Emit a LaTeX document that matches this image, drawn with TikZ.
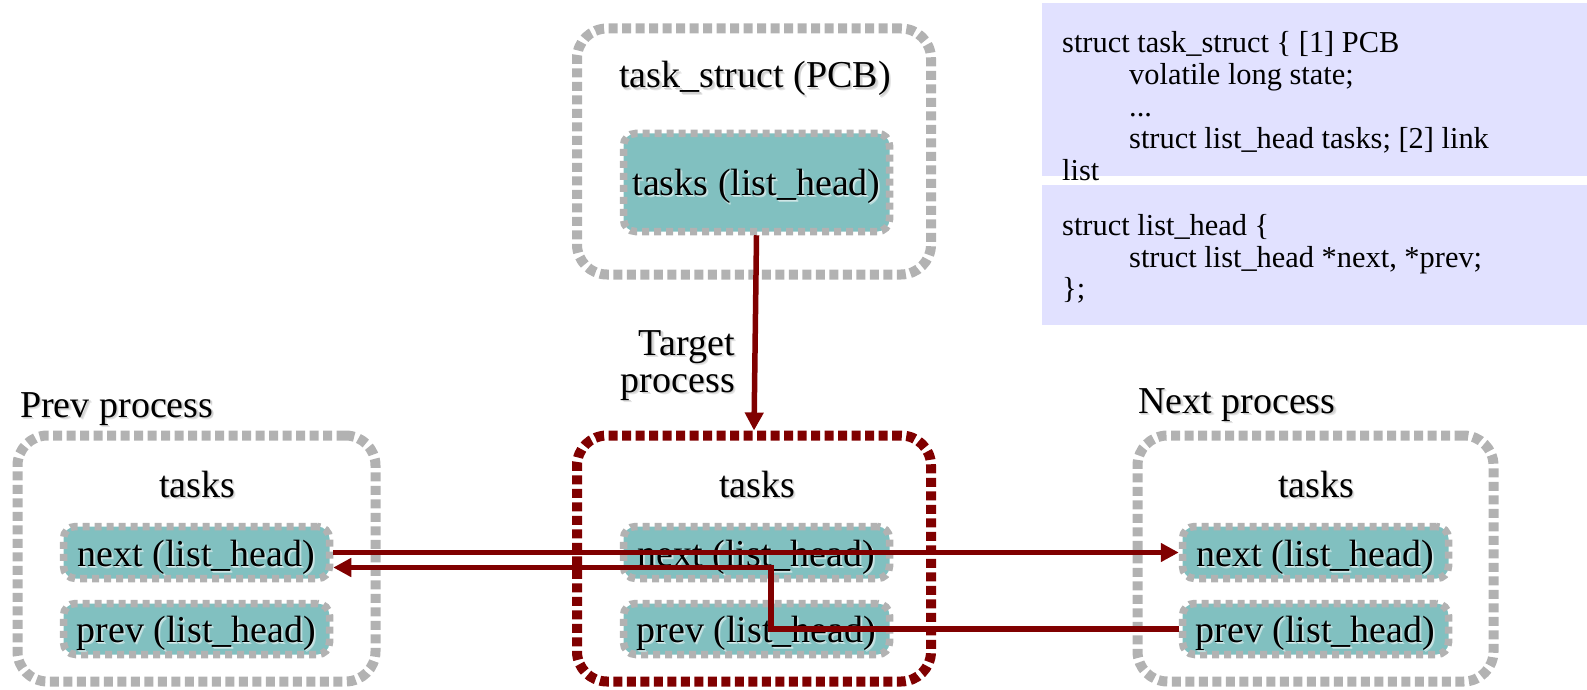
\documentclass[tikz,border=0pt]{standalone}
\usepackage{fontspec}
\setmainfont{Liberation Serif}
\usetikzlibrary{arrows.meta}
\definecolor{boxgray}{RGB}{178,178,178}
\definecolor{cellfill}{RGB}{129,192,192}
\definecolor{linkred}{RGB}{128,0,0}
\definecolor{codebg}{RGB}{225,225,255}
% soft drop shadow behind a label: two faint offset copies, then the text
\newcommand\shadowed[2][black]{\leavevmode
  \rlap{\kern2.5pt\raisebox{-2.5pt}{\color{#1!10}#2}}%
  \rlap{\kern1.5pt\raisebox{-1.5pt}{\color{#1!18}#2}}#2}
\newcommand\glowed[1]{\leavevmode
  \rlap{\kern2pt\raisebox{-2.5pt}{\color{white!45!cellfill}#1}}%
  \rlap{\kern1pt\raisebox{-1.5pt}{\color{white!65!cellfill}#1}}#1}
\tikzset{
  outerbox/.style={draw=boxgray, line width=10pt, dash pattern=on 9pt off 4.5pt,
    rounded corners=30pt, inner sep=0pt, minimum width=354pt, minimum height=246pt},
  targetbox/.style={outerbox, draw=linkred},
  cellbox/.style={draw=boxgray, fill=cellfill, line width=7.5pt, dash pattern=on 7pt off 5pt,
    rounded corners=12pt, inner sep=0pt, minimum width=266pt},
  lbl/.style={inner sep=0pt, anchor=base, font=\fontsize{38}{40}\selectfont},
  codeln/.style={inner sep=0pt, anchor=base west, font=\fontsize{30.4}{32}\selectfont},
  conn/.style={draw=linkred, line width=5.5pt},
  tip/.style={-{Triangle[length=18pt,width=18pt]}}
}
\begin{document}
\begin{tikzpicture}[x=1pt,y=-1pt]
\useasboundingbox (0,0) rectangle (1587,690);

% code listing panels
\fill[codebg] (1042,3) rectangle (1587,176);
\fill[codebg] (1042,185) rectangle (1587,325);
\node[codeln] (c1) at (1062,53)  {struct task\_struct \{ [1] PCB};
\node[codeln] (c2) at (1129,85)  {volatile long state;};
\node[codeln] (c3) at (1129,117) {...};
\node[codeln] (c4) at (1129,149) {struct list\_head tasks; [2] link};
\node[codeln] (c5) at (1062,180) {list};
\node[codeln] (c6) at (1062,235) {struct list\_head \{};
\node[codeln] (c7) at (1129,267) {struct list\_head *next, *prev;};
\node[codeln] (c8) at (1062,298) {\};};

% task_struct (PCB)
\node[outerbox] (pcb) at (754,151.5) {};
\node[lbl] (pcbt) at (755,88) {\shadowed{task\_struct (PCB)}};
\node[cellbox, minimum height=98pt] (head) at (756.5,182.5) {};
\node[lbl] (headt) at (756.5,195) {\glowed{tasks (list\_head)}};

% target process
\node[lbl, anchor=base east] (tg1) at (735,355) {\shadowed{Target}};
\node[lbl, anchor=base east] (tg2) at (735,392) {\shadowed{process}};
\node[targetbox] (tgt) at (754,558.5) {};
\node[lbl] (tgtt) at (757,497) {\shadowed{tasks}};
\node[cellbox, minimum height=52pt] (tnext) at (756.5,552.5) {};
\node[lbl] (tnextt) at (756.5,566) {\glowed{next (list\_head)}};
\node[cellbox, minimum height=51pt] (tprev) at (756.5,629) {};
\node[lbl] (tprevt) at (756.5,642) {\glowed{prev (list\_head)}};

% previous process
\node[lbl, anchor=base west] (pl) at (20,417) {\shadowed{Prev process}};
\node[outerbox, minimum width=358pt] (pbox) at (196.5,558.5) {};
\node[lbl] (pt) at (197,497) {\shadowed{tasks}};
\node[cellbox, minimum height=52pt] (pnext) at (196.5,552.5) {};
\node[lbl] (pnextt) at (196.5,566) {\glowed{next (list\_head)}};
\node[cellbox, minimum height=51pt] (pprev) at (196.5,629) {};
\node[lbl] (pprevt) at (196.5,642) {\glowed{prev (list\_head)}};

% next process
\node[lbl, anchor=base west] (nl) at (1138,413) {\shadowed{Next process}};
\node[outerbox, minimum width=356pt] (nbox) at (1315.5,558.5) {};
\node[lbl] (nt) at (1316,497) {\shadowed{tasks}};
\node[cellbox, minimum height=52pt] (nnext) at (1315.5,552.5) {};
\node[lbl] (nnextt) at (1315.5,566) {\glowed{next (list\_head)}};
\node[cellbox, minimum height=51pt] (nprev) at (1315.5,629) {};
\node[lbl] (nprevt) at (1315.5,642) {\glowed{prev (list\_head)}};

% links
\coordinate (bend) at (771,0);
\draw[conn, tip] (head.south) -- (tgt.north);
\draw[conn, tip] (pnext.east) -- (nnext.west);
\draw[conn, tip] (nprev.west) -- (nprev.west -| bend) |- ([yshift=-15pt]pnext.east);
\end{tikzpicture}
\end{document}
